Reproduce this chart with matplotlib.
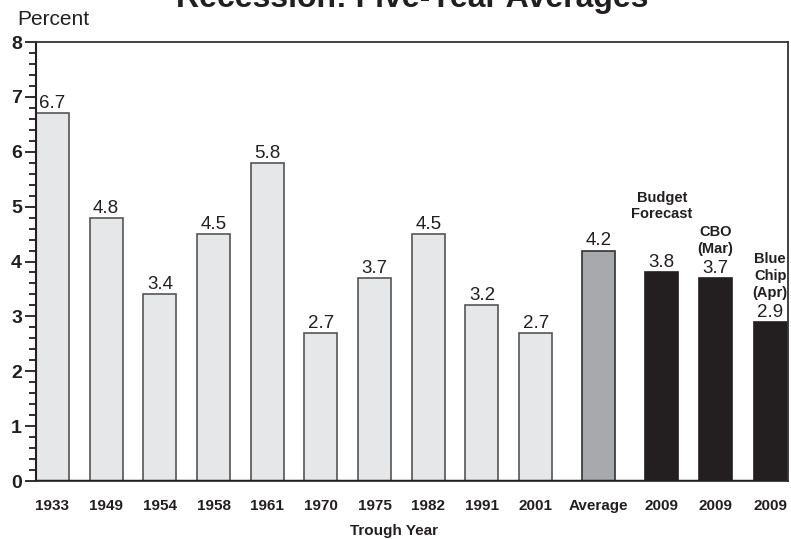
import matplotlib
matplotlib.use("Agg")
from matplotlib import pyplot as plt
from matplotlib.ticker import MultipleLocator

plt.rcParams['font.family'] = ['Liberation Sans', 'DejaVu Sans']

labels = ['1933', '1949', '1954', '1958', '1961', '1970', '1975', '1982',
          '1991', '2001', 'Average', '2009', '2009', '2009']
values = [6.7, 4.8, 3.4, 4.5, 5.8, 2.7, 3.7, 4.5, 3.2, 2.7, 4.2, 3.8, 3.7, 2.9]
kinds = ['hist'] * 10 + ['avg'] + ['fc'] * 3
forecast_names = ['Budget\nForecast', 'CBO\n(Mar)', 'Blue\nChip\n(Apr)']

# slight gaps before the average and the 2009 group
pos = [0, 1, 2, 3, 4, 5, 6, 7, 8, 9, 10.17, 11.35, 12.35, 13.37]
name_offset = [0.93, 0.40, 0.40]
face = {'hist': '#e6e7e8', 'avg': '#a7a9ac', 'fc': '#231f20'}
edge = {'hist': '#555555', 'avg': '#333333', 'fc': '#231f20'}

fig = plt.figure(figsize=(7.91, 5.39), dpi=100)
ax = fig.add_axes([0.0455, 0.1076, 0.9507, 0.8144])

for x, v, k in zip(pos, values, kinds):
    ax.bar(x, v, width=0.615, color=face[k], edgecolor=edge[k], linewidth=1.2, zorder=2)
    ax.text(x, v + 0.02, f'{v:.1f}', ha='center', va='bottom', fontsize=13.5, color='#231f20')

fc_pos = pos[11:]
fc_vals = values[11:]
for x, v, name, off in zip(fc_pos, fc_vals, forecast_names, name_offset):
    ax.text(x, v + off, name, ha='center', va='bottom', fontsize=10.5,
            fontweight='bold', color='#231f20', linespacing=1.25)

ax.axhline(0, color='#231f20', linewidth=2.5, zorder=3)
ax.set_xlim(-0.307, 13.70)
ax.set_ylim(0, 8)
ax.set_xticks(pos)
ax.set_xticklabels(labels, fontsize=11, fontweight='bold', color='#231f20')
ax.tick_params(axis='x', length=0, pad=13)
ax.yaxis.set_major_locator(MultipleLocator(1))
ax.yaxis.set_minor_locator(MultipleLocator(0.2))
ax.tick_params(axis='y', which='major', length=8, width=1.3, labelsize=14, pad=2,
               color='#231f20', labelcolor='#231f20')
ax.tick_params(axis='y', which='minor', length=5, width=1.3, color='#231f20')
for lbl in ax.get_yticklabels():
    lbl.set_fontweight('bold')
for s in ax.spines.values():
    s.set_color('#333333')
    s.set_linewidth(1.3)
ax.spines['left'].set_color('#231f20')
ax.spines['left'].set_linewidth(1.5)

fig.text(0.521, 0.987, 'Recession: Five-Year Averages', ha='center', va='baseline',
         fontsize=23, fontweight='bold', color='#231f20')
fig.text(0.022, 0.953, 'Percent', ha='left', va='baseline', fontsize=15, color='#231f20')
fig.text(0.498, 0.008, 'Trough Year', ha='center', va='baseline', fontsize=11,
         fontweight='bold', color='#231f20')

fig.savefig('out.png', dpi=100)
